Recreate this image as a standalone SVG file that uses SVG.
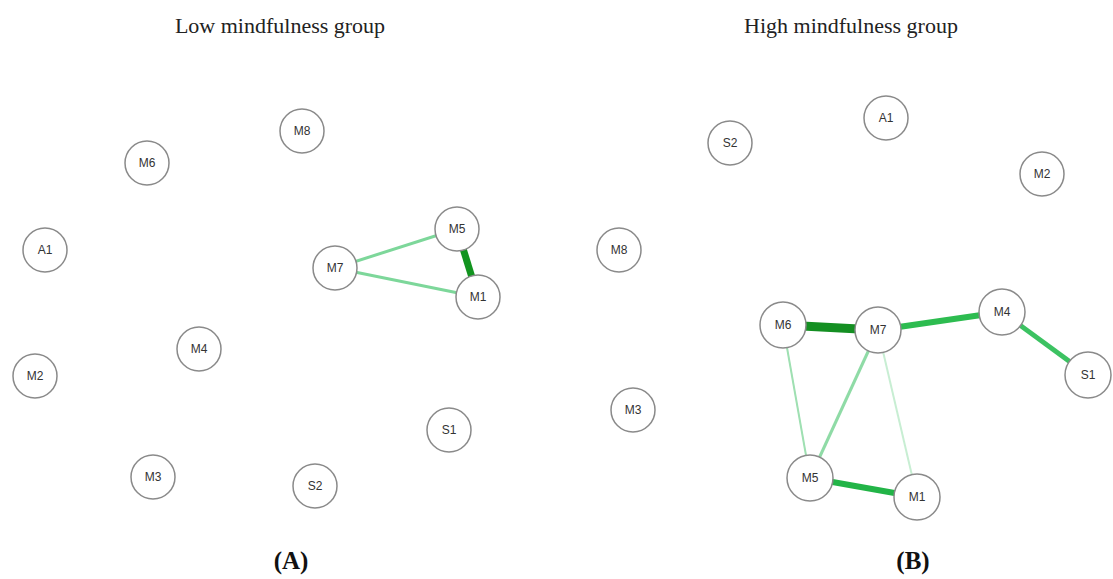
<svg xmlns="http://www.w3.org/2000/svg" width="1113" height="579" viewBox="0 0 1113 579">
<style>
.node circle{fill:#fff;stroke:#8a8a8a;stroke-width:1.5}
.node text{font-family:"Liberation Sans",Arial,sans-serif;font-size:12px;fill:#333;text-anchor:middle;dominant-baseline:central}
.title{font-family:"Liberation Serif","Times New Roman",serif;font-size:22px;fill:#222;text-anchor:middle}
.lab{font-family:"Liberation Serif","Times New Roman",serif;font-size:25px;font-weight:bold;fill:#111;text-anchor:middle}
.e{stroke-linecap:butt;fill:none}
</style>
<rect width="1113" height="579" fill="#fff"/>
<text class="title" x="280" y="33">Low mindfulness group</text>
<text class="title" x="851" y="33">High mindfulness group</text>
<text class="lab" x="291" y="569">(A)</text>
<text class="lab" x="913" y="569">(B)</text>
<g id="connectors">
<line class="e" x1="335" y1="268" x2="457" y2="229" stroke="#7dd79a" stroke-width="3"/>
<line class="e" x1="335" y1="268" x2="478" y2="297" stroke="#7dd79a" stroke-width="3"/>
<line class="e" x1="457" y1="229" x2="478" y2="297" stroke="#12941f" stroke-width="7"/>
<line class="e" x1="783" y1="325" x2="878" y2="330" stroke="#148f22" stroke-width="9"/>
<line class="e" x1="878" y1="330" x2="1002" y2="312" stroke="#2dbc50" stroke-width="6"/>
<line class="e" x1="1002" y1="312" x2="1088" y2="375" stroke="#3cc262" stroke-width="5"/>
<line class="e" x1="783" y1="325" x2="810" y2="478" stroke="#9fe0b2" stroke-width="2"/>
<line class="e" x1="878" y1="330" x2="810" y2="478" stroke="#8fdba6" stroke-width="3"/>
<line class="e" x1="878" y1="330" x2="917" y2="497" stroke="#c8eed3" stroke-width="2"/>
<line class="e" x1="810" y1="478" x2="917" y2="497" stroke="#22b447" stroke-width="6"/>
</g>
<g id="L-M8" class="node"><circle cx="302" cy="131" r="22"/><text x="302" y="131">M8</text></g>
<g id="L-M6" class="node"><circle cx="147" cy="163" r="22"/><text x="147" y="163">M6</text></g>
<g id="L-A1" class="node"><circle cx="45" cy="250" r="22"/><text x="45" y="250">A1</text></g>
<g id="L-M5" class="node"><circle cx="457" cy="229" r="22"/><text x="457" y="229">M5</text></g>
<g id="L-M7" class="node"><circle cx="335" cy="268" r="22"/><text x="335" y="268">M7</text></g>
<g id="L-M1" class="node"><circle cx="478" cy="297" r="22"/><text x="478" y="297">M1</text></g>
<g id="L-M4" class="node"><circle cx="199" cy="349" r="22"/><text x="199" y="349">M4</text></g>
<g id="L-M2" class="node"><circle cx="35" cy="376" r="22"/><text x="35" y="376">M2</text></g>
<g id="L-S1" class="node"><circle cx="449" cy="430" r="22"/><text x="449" y="430">S1</text></g>
<g id="L-M3" class="node"><circle cx="153" cy="477" r="22"/><text x="153" y="477">M3</text></g>
<g id="L-S2" class="node"><circle cx="315" cy="486" r="22"/><text x="315" y="486">S2</text></g>
<g id="R-A1" class="node"><circle cx="886" cy="118" r="22"/><text x="886" y="118">A1</text></g>
<g id="R-S2" class="node"><circle cx="730" cy="143" r="22"/><text x="730" y="143">S2</text></g>
<g id="R-M2" class="node"><circle cx="1042" cy="174" r="22"/><text x="1042" y="174">M2</text></g>
<g id="R-M8" class="node"><circle cx="619" cy="250" r="22"/><text x="619" y="250">M8</text></g>
<g id="R-M4" class="node"><circle cx="1002" cy="312" r="23"/><text x="1002" y="312">M4</text></g>
<g id="R-M6" class="node"><circle cx="783" cy="325" r="23"/><text x="783" y="325">M6</text></g>
<g id="R-M7" class="node"><circle cx="878" cy="330" r="23"/><text x="878" y="330">M7</text></g>
<g id="R-S1" class="node"><circle cx="1088" cy="375" r="23"/><text x="1088" y="375">S1</text></g>
<g id="R-M3" class="node"><circle cx="633" cy="410" r="22"/><text x="633" y="410">M3</text></g>
<g id="R-M5" class="node"><circle cx="810" cy="478" r="23"/><text x="810" y="478">M5</text></g>
<g id="R-M1" class="node"><circle cx="917" cy="497" r="23"/><text x="917" y="497">M1</text></g>
</svg>
